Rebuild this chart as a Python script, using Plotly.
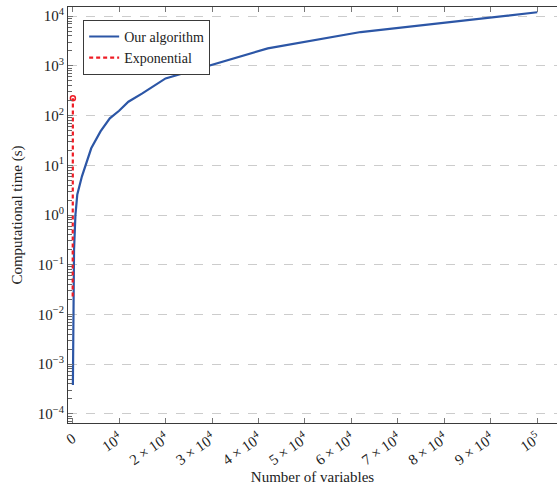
import plotly.graph_objects as go

# Data
alg_n = [50, 300, 600, 1000, 2000, 4000, 6000, 8000, 10000, 12000, 15000, 20000, 42000, 62000, 100000]
alg_t = [3.8e-4, 0.2, 1.0, 2.6, 6.0, 22, 48, 88, 125, 190, 280, 560, 2250, 4800, 12000]

exp_n = [10, 20, 30, 40, 50]
exp_t = [0.023, 0.3, 4.0, 40, 224]

x_tickvals = [0, 10000, 20000, 30000, 40000, 50000, 60000, 70000, 80000, 90000, 100000]
x_ticktext = ["0", "10<sup>4</sup>"] + [f"{k} × 10<sup>4</sup>" for k in range(2, 10)] + ["10<sup>5</sup>"]
y_tickvals = [1e-4, 1e-3, 1e-2, 1e-1, 1, 10, 100, 1000, 10000]
y_ticktext = ["10<sup>−4</sup>", "10<sup>−3</sup>", "10<sup>−2</sup>", "10<sup>−1</sup>",
              "10<sup>0</sup>", "10<sup>1</sup>", "10<sup>2</sup>", "10<sup>3</sup>", "10<sup>4</sup>"]
y_minor = [m * 10.0 ** e for e in range(-5, 5) for m in range(2, 10)]

FONT = "Liberation Serif"
BLUE = "#2c56a6"
RED = "#ee1c25"
AX = "#3a3a3a"
YR = [-4.185, 4.185]

fig = go.Figure()
fig.add_trace(go.Scatter(x=alg_n, y=alg_t, mode="lines", name="Our algorithm",
                         line=dict(color=BLUE, width=2.2)))
fig.add_trace(go.Scatter(x=exp_n, y=exp_t, mode="lines", name="Exponential",
                         line=dict(color=RED, width=2.2, dash="4px,3px")))
fig.add_trace(go.Scatter(x=exp_n[-1:], y=exp_t[-1:], mode="markers", showlegend=False,
                         marker=dict(symbol="circle-open", size=5, color=RED,
                                     line=dict(color=RED, width=1.5))))
# invisible trace carrying the minor-tick axis
fig.add_trace(go.Scatter(x=[None], y=[None], yaxis="y2", showlegend=False, hoverinfo="skip"))

fig.update_layout(
    width=557, height=488,
    margin=dict(l=68, r=0, t=7, b=65, autoexpand=False),
    paper_bgcolor="white", plot_bgcolor="white",
    font=dict(family=FONT, size=15, color="#222"),
    showlegend=True,
    legend=dict(x=0.031, y=0.969, xanchor="left", yanchor="top",
                bgcolor="white", bordercolor=AX, borderwidth=1,
                font=dict(family=FONT, size=14, color="#222"),
                tracegroupgap=0, itemwidth=30),
    xaxis=dict(
        range=[-1000, 104250], tickvals=x_tickvals, ticktext=x_ticktext,
        tickangle=-35, ticks="inside", ticklen=5, tickcolor="#777",
        showline=True, linecolor=AX, linewidth=1.2, mirror="ticks",
        showgrid=False, zeroline=False, automargin=False,
        tickfont=dict(family=FONT, size=15, color="#222"),
        title=dict(text="Number of variables", font=dict(family=FONT, size=15), standoff=4),
    ),
    yaxis=dict(
        type="log", range=YR, tickvals=y_tickvals, ticktext=y_ticktext,
        ticks="inside", ticklen=5, tickcolor="#777",
        showline=True, linecolor=AX, linewidth=1.2,
        showgrid=True, gridcolor="#cccccc", griddash="dash", gridwidth=1,
        zeroline=False, automargin=False,
        tickfont=dict(family=FONT, size=15, color="#222"),
        title=dict(text="Computational time (s)", font=dict(family=FONT, size=15), standoff=11),
    ),
    yaxis2=dict(
        type="log", range=YR, overlaying="y", side="left", anchor="x",
        tickvals=y_minor, ticktext=["" for _ in y_minor],
        ticks="inside", ticklen=4, tickcolor="#666", tickwidth=1,
        showline=False, showgrid=False, zeroline=False, automargin=False,
        showticklabels=False,
    ),
)

fig.write_html("out.html", config={"displayModeBar": False},
               post_script="document.body.style.margin='0';window.dispatchEvent(new Event('resize'));")
